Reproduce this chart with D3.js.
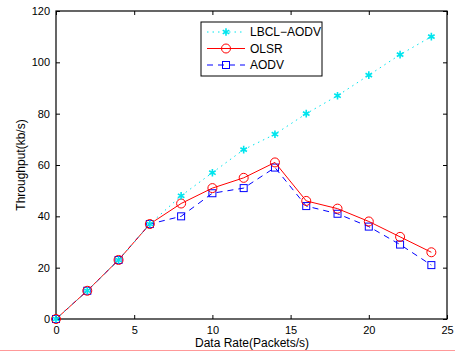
<!DOCTYPE html>
<html>
<head>
<meta charset="utf-8">
<script src="https://cdn.jsdelivr.net/npm/d3@7"></script>
<style>
  body { margin: 0; background: #fff; }
  svg { display: block; font-family: "Liberation Sans", Arial, sans-serif; }
</style>
</head>
<body>
<div id="chart"></div>
<script>
const rates = [0, 2, 4, 6, 8, 10, 12, 14, 16, 18, 20, 22, 24];
const lbclAodv = [0, 11, 23, 37, 48, 57, 66, 72, 80, 87, 95, 103, 110];
const olsr = [0, 11, 23, 37, 45, 51, 55, 61, 46, 43, 38, 32, 26];
const aodv = [0, 11, 23, 37, 40, 49, 51, 59, 44, 41, 36, 29, 21];
const xTicks = [0, 5, 10, 15, 20, 25];
const yTicks = [0, 20, 40, 60, 80, 100, 120];

const width = 455, height = 351;
const plotLeft = 56, plotRight = 447, plotTop = 11, plotBottom = 319;

const svg = d3.select("#chart").append("svg")
  .attr("width", width).attr("height", height);

const x = d3.scaleLinear().domain([0, 25]).range([plotLeft, plotRight]);
const y = d3.scaleLinear().domain([0, 120]).range([plotBottom, plotTop]);

// axes with inward ticks on all four sides
svg.append("g").attr("transform", `translate(0,${plotBottom})`)
  .call(d3.axisBottom(x).tickValues(xTicks).tickSize(-4).tickPadding(7))
  .call(g => g.select(".domain").remove());
svg.append("g").attr("transform", `translate(${plotLeft},0)`)
  .call(d3.axisLeft(y).tickValues(yTicks).tickSize(-4).tickPadding(6))
  .call(g => g.select(".domain").remove());
svg.append("g").attr("transform", `translate(0,${plotTop})`)
  .call(d3.axisTop(x).tickValues(xTicks).tickSize(-4).tickFormat(""))
  .call(g => g.select(".domain").remove());
svg.append("g").attr("transform", `translate(${plotRight},0)`)
  .call(d3.axisRight(y).tickValues(yTicks).tickSize(-4).tickFormat(""))
  .call(g => g.select(".domain").remove());

svg.selectAll(".tick text").attr("font-size", 11).attr("fill", "#000")
  .style("font-family", "Liberation Sans, Arial, sans-serif");
svg.selectAll(".tick line").attr("stroke", "#000");

svg.append("rect")
  .attr("x", plotLeft).attr("y", plotTop)
  .attr("width", plotRight - plotLeft).attr("height", plotBottom - plotTop)
  .attr("fill", "none").attr("stroke", "#000").attr("stroke-width", 1.2);

const line = d3.line().x((d, i) => x(rates[i])).y(d => y(d));

const series = [
  { name: "LBCL-AODV", values: lbclAodv, color: "#00e5ee", dash: "1.5,4", marker: "star" },
  { name: "OLSR", values: olsr, color: "#ff0000", dash: null, marker: "circle" },
  { name: "AODV", values: aodv, color: "#0000ff", dash: "6,5", marker: "square" }
];

function drawMarker(g, type, color) {
  if (type === "circle") {
    g.append("circle").attr("r", 4.5).attr("fill", "none")
      .attr("stroke", color).attr("stroke-width", 1);
  } else if (type === "square") {
    g.append("rect").attr("x", -3.5).attr("y", -3.5).attr("width", 7).attr("height", 7)
      .attr("fill", "none").attr("stroke", color).attr("stroke-width", 1);
  } else {
    g.append("path").attr("d", d3.symbol(d3.symbolAsterisk, 40)())
      .attr("fill", "none").attr("stroke", color).attr("stroke-width", 1.6);
  }
}

// draw in reverse so LBCL sits on top near origin like the reference
series.slice().reverse().forEach(s => {
  svg.append("path").datum(s.values)
    .attr("d", line).attr("fill", "none")
    .attr("stroke", s.color).attr("stroke-width", 1)
    .attr("stroke-dasharray", s.dash);
  s.values.forEach((v, i) => {
    const g = svg.append("g").attr("transform", `translate(${x(rates[i])},${y(v)})`);
    drawMarker(g, s.marker, s.color);
  });
});

// legend
const lg = svg.append("g").attr("transform", "translate(201,22)");
lg.append("rect").attr("width", 121).attr("height", 54)
  .attr("fill", "#fff").attr("stroke", "#000").attr("stroke-width", 1);
series.forEach((s, i) => {
  const yy = 10 + i * 16.5;
  lg.append("line").attr("x1", 6).attr("x2", 44).attr("y1", yy).attr("y2", yy)
    .attr("stroke", s.color).attr("stroke-width", 1).attr("stroke-dasharray", s.dash);
  const m = lg.append("g").attr("transform", `translate(25,${yy})`);
  drawMarker(m, s.marker, s.color);
  lg.append("text").attr("x", 49).attr("y", yy + 4.3).attr("font-size", 12)
    .text(s.name.replace("-", "\u2212"));
});

// axis labels
svg.append("text").attr("x", 252).attr("y", 347)
  .attr("text-anchor", "middle").attr("font-size", 12).text("Data Rate(Packets/s)");
svg.append("text").attr("transform", "translate(25,165) rotate(-90)")
  .attr("text-anchor", "middle").attr("font-size", 12).text("Throughput(kb/s)");

// thin pink rule along the bottom edge
svg.append("line").attr("x1", 0).attr("x2", width).attr("y1", 350.5).attr("y2", 350.5)
  .attr("stroke", "#ff9999").attr("stroke-width", 1);
</script>
</body>
</html>
